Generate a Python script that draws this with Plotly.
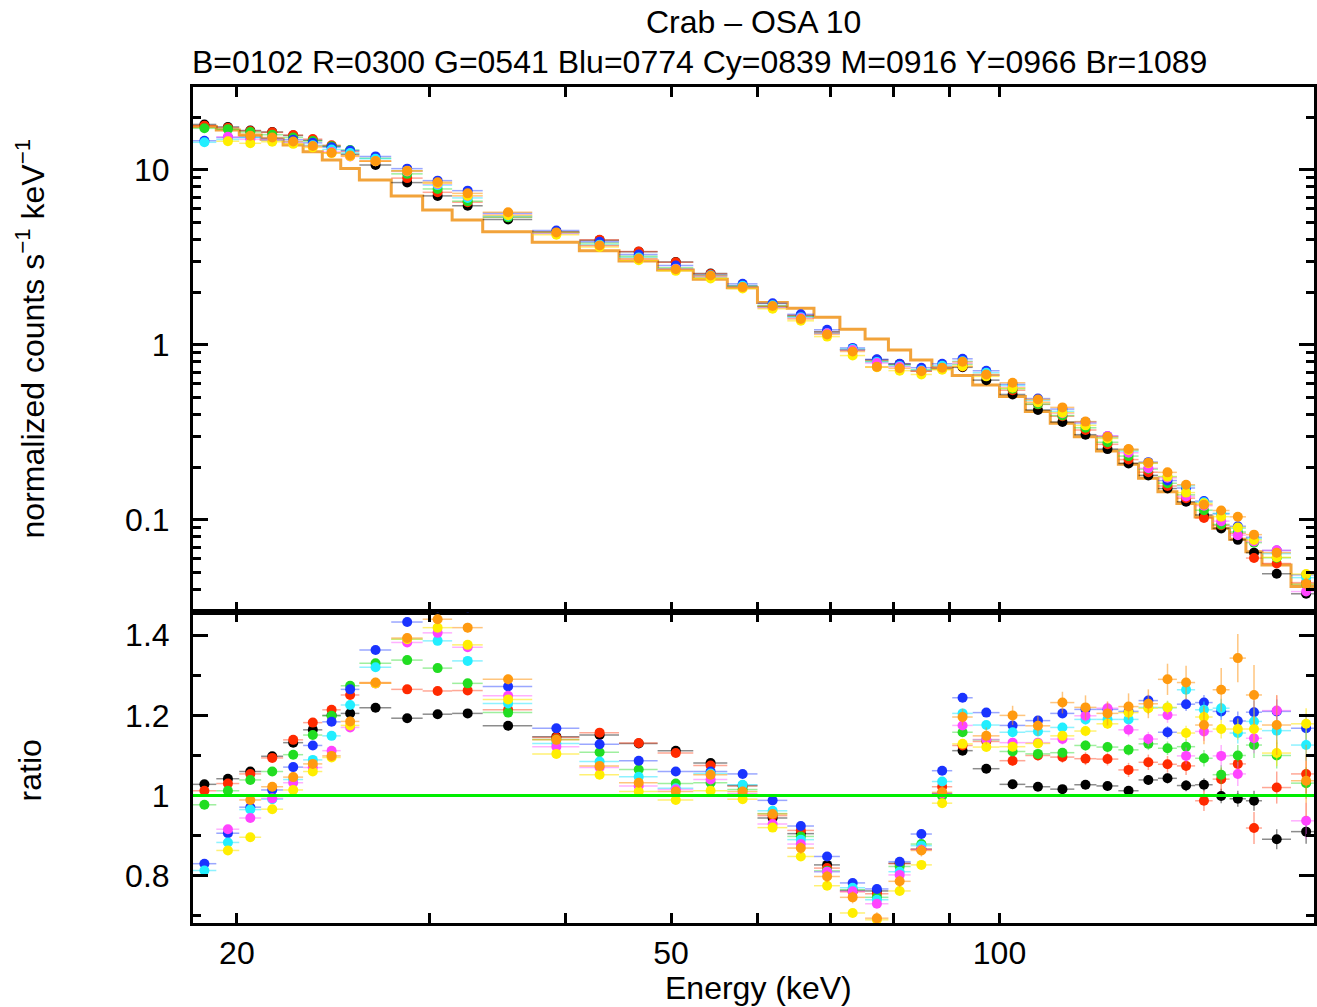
import numpy as np
import plotly.graph_objects as go

# ---------------- data ----------------
bin_edges = [18.2, 19.15, 20.1, 21.05, 22.05, 23.0, 23.95, 24.9, 25.9, 27.7,
             29.6, 31.5, 33.6, 37.3, 41.2, 44.8, 48.6, 52.4, 56.3, 60.0,
             63.9, 67.6, 71.4, 75.3, 79.1, 82.9, 86.7, 90.5, 94.5, 100.0,
             105.6, 111.3, 117.1, 122.7, 128.5, 134.1, 139.7, 145.4, 151.1, 156.8,
             162.5, 168.2, 174.0, 185.0, 197.0]

# orange model (step line), normalized counts s^-1 keV^-1
model_counts = [17.7, 16.9, 15.85, 15.0, 13.9, 12.7, 11.4, 10.2, 8.77, 7.1,
                5.91, 5.18, 4.44, 3.86, 3.45, 3.02, 2.68, 2.37, 2.12, 1.75,
                1.62, 1.44, 1.23, 1.08, 0.936, 0.82, 0.735, 0.67, 0.59, 0.507,
                0.416, 0.357, 0.299, 0.248, 0.208, 0.173, 0.145, 0.124, 0.104, 0.0896,
                0.0776, 0.0659, 0.0553, 0.0416]

ratio_black = [1.028, 1.042, 1.060, 1.098, 1.132, 1.164, 1.200, 1.205, 1.219, 1.193,
               1.203, 1.205, 1.174, 1.147, 1.151, 1.130, 1.112, 1.081, 1.025, 0.944,
               0.905, 0.827, 0.763, 0.762, 0.831, 0.866, 1.005, 1.112, 1.067, 1.028,
               1.022, 1.016, 1.027, 1.024, 1.012, 1.039, 1.043, 1.025, 1.027, 0.999,
               0.992, 0.987, 0.891, 0.910]
ratio_red = [1.012, 1.030, 1.054, 1.094, 1.139, 1.182, 1.214, 1.251, 1.280, 1.265,
             1.261, 1.262, 1.214, 1.145, 1.157, 1.131, 1.106, 1.075, 1.024, 0.950,
             0.913, 0.819, 0.760, 0.755, 0.830, 0.866, 1.022, 1.125, 1.135, 1.087,
             1.100, 1.096, 1.092, 1.091, 1.064, 1.083, 1.078, 1.074, 0.987, 1.041,
             1.079, 0.919, 1.020, 1.054]
ratio_green = [0.977, 1.012, 1.039, 1.060, 1.102, 1.151, 1.199, 1.274, 1.330, 1.338,
               1.318, 1.280, 1.207, 1.140, 1.108, 1.065, 1.030, 1.032, 1.015, 0.955,
               0.898, 0.812, 0.765, 0.746, 0.823, 0.879, 0.999, 1.158, 1.139, 1.110,
               1.104, 1.107, 1.125, 1.121, 1.114, 1.129, 1.118, 1.122, 1.093, 1.052,
               1.100, 1.126, 1.100, 1.031]
ratio_blue = [0.830, 0.906, 0.971, 1.014, 1.071, 1.125, 1.184, 1.265, 1.363, 1.433,
              1.470, 1.470, 1.272, 1.168, 1.128, 1.087, 1.060, 1.060, 1.054, 0.988,
              0.924, 0.848, 0.782, 0.767, 0.835, 0.904, 1.062, 1.244, 1.207, 1.175,
              1.187, 1.205, 1.215, 1.215, 1.210, 1.237, 1.158, 1.228, 1.232, 1.210,
              1.186, 1.208, 1.210, 1.168]
ratio_cyan = [0.813, 0.883, 0.965, 0.991, 1.040, 1.089, 1.149, 1.226, 1.320, 1.390,
              1.386, 1.336, 1.230, 1.130, 1.085, 1.047, 1.018, 1.055, 1.027, 0.962,
              0.890, 0.810, 0.770, 0.740, 0.810, 0.875, 1.035, 1.205, 1.176, 1.158,
              1.160, 1.170, 1.190, 1.190, 1.190, 1.220, 1.219, 1.264, 1.214, 1.218,
              1.156, 1.185, 1.162, 1.126]
ratio_magenta = [None, 0.916, 0.944, 0.993, 1.032, 1.070, 1.112, 1.170, 1.280, 1.382,
                 1.406, 1.370, 1.249, 1.122, 1.070, 1.024, 1.015, 1.040, 1.005, 0.929,
                 0.879, 0.810, 0.761, 0.730, 0.802, 0.865, 1.005, 1.175, 1.140, 1.132,
                 1.132, 1.141, 1.199, 1.218, 1.164, 1.141, 1.201, 1.099, 1.160, 1.099,
                 1.054, 1.143, 1.212, 0.937]
ratio_yellow = [None, 0.863, 0.896, 0.966, 1.014, 1.060, 1.095, 1.175, 1.280, 1.390,
                1.419, 1.376, 1.240, 1.104, 1.052, 1.010, 0.989, 1.012, 0.991, 0.920,
                0.848, 0.775, 0.707, 0.690, 0.762, 0.827, 0.981, 1.129, 1.121, 1.122,
                1.130, 1.149, 1.161, 1.179, 1.207, 1.218, 1.220, 1.156, 1.196, 1.166,
                1.166, 1.166, 1.106, 1.179]
ratio_orange = [None, None, 0.989, 1.022, 1.046, 1.079, 1.099, 1.185, 1.282, 1.393,
                1.440, 1.419, 1.290, 1.139, 1.074, 1.032, 1.010, 1.052, 1.010, 0.954,
                0.869, 0.798, 0.746, 0.694, 0.786, 0.863, 1.008, 1.196, 1.149, 1.200,
                1.174, 1.232, 1.220, 1.205, 1.222, 1.229, 1.290, 1.282, 1.176, 1.264,
                1.343, 1.251, 1.176, 1.037]

# typical 1-sigma ratio error per bin (black data set) and per-set scale
ratio_err_base = [0.004] * 20 + [0.005] * 7 + [0.007, 0.007, 0.008, 0.008, 0.009, 0.010, 0.010,
                                               0.011, 0.012, 0.013, 0.014, 0.016, 0.018, 0.020,
                                               0.025, 0.025, 0.030]
err_scale = {"black": 1.0, "red": 1.6, "green": 1.3, "blue": 1.2,
             "cyan": 1.3, "magenta": 1.5, "yellow": 1.3, "orange": 3.0}

series_names = ["black", "red", "green", "blue", "cyan", "magenta", "yellow", "orange"]
series_ratios = [ratio_black, ratio_red, ratio_green, ratio_blue,
                 ratio_cyan, ratio_magenta, ratio_yellow, ratio_orange]

x_tick_values = [20, 50, 100]
x_tick_labels = ["20", "50", "100"]

title_text = "Crab \u2013 OSA 10"
subtitle_text = "B=0102 R=0300 G=0541 Blu=0774 Cy=0839 M=0916 Y=0966 Br=1089"

# ---------------- styles ----------------
marker_colors = {"black": "#000000", "red": "#ff2a00", "green": "#22dd22", "blue": "#1a33ff",
                 "cyan": "#22eeff", "magenta": "#ff44ff", "yellow": "#ffee00", "orange": "#ff9a10"}
bar_colors = {"black": "rgba(0,0,0,0.45)", "red": "rgba(255,60,20,0.45)",
              "green": "rgba(40,220,40,0.45)", "blue": "rgba(30,60,255,0.45)",
              "cyan": "rgba(30,230,255,0.5)", "magenta": "rgba(255,80,255,0.45)",
              "yellow": "rgba(255,230,0,0.55)", "orange": "rgba(255,150,20,0.55)"}
FONT = "Liberation Sans, Arial, Helvetica, sans-serif"
FS = 32

edges = np.array(bin_edges)
centers = 0.5 * (edges[:-1] + edges[1:])
half_w = 0.5 * (edges[1:] - edges[:-1])
model = np.array(model_counts)
err_base = np.array(ratio_err_base)

fig = go.Figure()

# model step line (top panel)
fig.add_trace(go.Scatter(x=edges, y=list(model) + [model[-1]], mode="lines",
                         line=dict(color="#f2a33a", width=3, shape="hv"),
                         xaxis="x", yaxis="y", showlegend=False, hoverinfo="skip"))

for name, rat in zip(series_names, series_ratios):
    r = np.array([np.nan if v is None else v for v in rat], dtype=float)
    e = err_base * err_scale[name]
    counts = r * model
    cerr = e * model
    common = dict(mode="markers", showlegend=False,
                  marker=dict(color=marker_colors[name], size=10, line=dict(width=0)))
    fig.add_trace(go.Scatter(x=centers, y=counts, xaxis="x", yaxis="y",
                             error_x=dict(type="data", array=half_w, color=bar_colors[name],
                                          thickness=1.5, width=0),
                             error_y=dict(type="data", array=cerr, color=bar_colors[name],
                                          thickness=1.5, width=0),
                             **common))
    fig.add_trace(go.Scatter(x=centers, y=r, xaxis="x2", yaxis="y2",
                             error_x=dict(type="data", array=half_w, color=bar_colors[name],
                                          thickness=1.5, width=0),
                             error_y=dict(type="data", array=e, color=bar_colors[name],
                                          thickness=1.5, width=0),
                             **common))

xrange_log = [np.log10(20) - 44 / 1094, np.log10(20) + 1080 / 1094]
xmin = [30, 40, 60, 70, 80, 90, 200]

axis_common = dict(showline=True, linecolor="black", linewidth=3, mirror="ticks",
                   ticks="inside", tickcolor="black", tickwidth=2.5, showgrid=False,
                   zeroline=False, tickfont=dict(family=FONT, size=FS, color="black"))

fig.update_layout(
    width=1317, height=1007,
    margin=dict(l=193, r=0, t=87, b=84),
    paper_bgcolor="white", plot_bgcolor="white",
    xaxis=dict(type="log", range=xrange_log, domain=[0, 1], anchor="y",
               tickmode="array", tickvals=x_tick_values, ticklen=10,
               minor=dict(tickmode="array", tickvals=xmin, ticks="inside", ticklen=10,
                          tickcolor="black", tickwidth=2.5, showgrid=False),
               showticklabels=False, matches="x2", **axis_common),
    xaxis2=dict(type="log", range=xrange_log, domain=[0, 1], anchor="y2",
                tickmode="array", tickvals=x_tick_values, ticktext=x_tick_labels, ticklen=10,
                ticklabelstandoff=0,
                minor=dict(tickmode="array", tickvals=xmin, ticks="inside", ticklen=10,
                           tickcolor="black", tickwidth=2.5, showgrid=False),
                **axis_common),
    yaxis=dict(type="log", range=[-1.526, 1.474], domain=[0.372, 1], anchor="x",
               tickmode="array", tickvals=[0.1, 1, 10], ticktext=["0.1", "1", "10"], ticklen=15,
               ticklabelstandoff=14,
               minor=dict(tickmode="array",
                          tickvals=[0.04, 0.05, 0.06, 0.07, 0.08, 0.09, 0.2, 0.3, 0.4, 0.5, 0.6,
                                    0.7, 0.8, 0.9, 2, 3, 4, 5, 6, 7, 8, 9, 20],
                          ticks="inside", ticklen=8, tickcolor="black", tickwidth=2.5,
                          showgrid=False),
               **axis_common),
    yaxis2=dict(type="linear", range=[0.682, 1.458], domain=[0, 0.372], anchor="x2",
                tickmode="array", tickvals=[0.8, 1.0, 1.2, 1.4], ticktext=["0.8", "1", "1.2", "1.4"],
                ticklen=15, ticklabelstandoff=14,
                minor=dict(tickmode="array", tickvals=[0.7, 0.9, 1.1, 1.3], ticks="inside",
                           ticklen=8, tickcolor="black", tickwidth=2.5, showgrid=False),
                **axis_common),
    shapes=[dict(type="line", xref="x2 domain", yref="y2", x0=0, x1=1, y0=1, y1=1,
                 line=dict(color="#00ee00", width=3), layer="above")],
    annotations=[
        dict(text=title_text, xref="paper", yref="paper", x=(755 - 193) / 1124,
             y=(923 - 22) / 836, xanchor="center", yanchor="middle", showarrow=False,
             font=dict(family=FONT, size=FS, color="black")),
        dict(text=subtitle_text, xref="paper", yref="paper", x=(701 - 193) / 1124,
             y=(923 - 62) / 836, xanchor="center", yanchor="middle", showarrow=False,
             font=dict(family=FONT, size=FS, color="black")),
        dict(text="normalized counts s<sup>\u22121</sup> keV<sup>\u22121</sup>", xref="paper",
             yref="paper", x=(30 - 193) / 1124, y=(923 - 338) / 836, textangle=-90,
             xanchor="center", yanchor="middle", showarrow=False,
             font=dict(family=FONT, size=FS, color="black")),
        dict(text="ratio", xref="paper", yref="paper", x=(30 - 193) / 1124,
             y=(923 - 770) / 836, textangle=-90, xanchor="center", yanchor="middle",
             showarrow=False, font=dict(family=FONT, size=FS, color="black")),
        dict(text="Energy (keV)", xref="paper", yref="paper", x=(760 - 193) / 1124,
             y=(923 - 988) / 836, xanchor="center", yanchor="middle", showarrow=False,
             font=dict(family=FONT, size=FS, color="black")),
    ],
)

fig.write_html("out.html")
